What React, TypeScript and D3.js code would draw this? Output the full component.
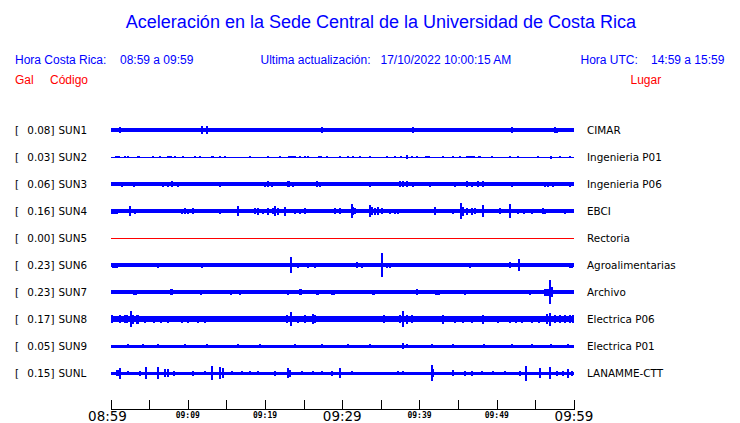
import React from "react";
import * as d3 from "d3";

// ---- data ----
const codes = ["SUN1", "SUN2", "SUN3", "SUN4", "SUN5", "SUN6", "SUN7", "SUN8", "SUN9", "SUNL"];
const places = ["CIMAR", "Ingenieria P01", "Ingenieria P06", "EBCI", "Rectoria", "Agroalimentarias", "Archivo", "Electrica P06", "Electrica P01", "LANAMME-CTT"];
const peakGal = [0.08, 0.03, 0.06, 0.16, 0.0, 0.23, 0.23, 0.17, 0.05, 0.15];
const baseGal = [0.033, 0.01, 0.035, 0.035, 0, 0.033, 0.035, 0.056, 0.03, 0.03];

// bursts: [minute after 08:59, half amplitude (Gal), optional duration (min)]
type Burst = [number, number, number?];
const sun1: Burst[] = [[1.23,0.057],[3.4,0.04],[5.98,0.04],[6.5,0.04],[9.2,0.04],[11.8,0.08],[12.45,0.08],[14.4,0.04],[17.41,0.047],[17.6,0.045],[20.4,0.04],[23.75,0.047],[25.5,0.04],[27.42,0.065],[29.8,0.04],[31.65,0.045],[35.1,0.045],[36.83,0.045],[39.2,0.065],[41.7,0.04],[45.46,0.04],[48.0,0.04],[50.85,0.045],[52.02,0.065],[55.0,0.04],[57.54,0.065],[57.76,0.05]];
const sun2: Burst[] = [[0.9,0.02,0.6],[1.88,0.02],[2.31,0.02],[3.6,0.025,0.45],[5.55,0.02],[6.41,0.015],[7.6,0.025,0.65],[8.35,0.02],[9.43,0.015],[10.94,0.015],[11.59,0.015],[13.2,0.025,0.35],[14.17,0.02],[14.82,0.015],[18.06,0.02],[20.35,0.025],[21.94,0.02],[23.5,0.025,1.1],[24.53,0.02],[25.18,0.015],[25.61,0.02],[27.1,0.025,0.45],[27.98,0.02],[29.71,0.015],[30.79,0.015],[31.43,0.015],[32.3,0.025],[33.59,0.02],[35.75,0.015],[36.83,0.015],[37.6,0.025,0.3],[38.34,0.035],[38.99,0.02],[39.63,0.02],[41.0,0.025,0.65],[43.09,0.015],[44.38,0.02],[45.24,0.02],[46.6,0.025,1.1],[47.8,0.025,0.45],[49.34,0.02],[51.72,0.02],[52.79,0.02],[55.38,0.02],[57.0,0.03,0.3],[58.19,0.015],[59.48,0.02]];
const sun3: Burst[] = [[0.15,0.045],[1.45,0.05],[2.52,0.045],[3.0,0.05],[3.6,0.045],[5.33,0.04],[6.19,0.045],[6.84,0.05],[7.49,0.05],[7.92,0.06],[8.78,0.05],[11.37,0.04],[12.88,0.045],[14.17,0.05],[18.06,0.045],[19.14,0.045],[20.0,0.05],[20.43,0.055],[20.86,0.05],[23.02,0.055,0.4],[23.67,0.05],[24.75,0.045],[26.69,0.055],[27.12,0.05],[29.49,0.045],[32.73,0.045],[33.59,0.05],[37.48,0.055],[37.91,0.06],[38.34,0.055],[39.2,0.05],[39.85,0.045],[41.36,0.05],[42.44,0.045],[43.52,0.045],[44.6,0.05],[45.24,0.045],[46.11,0.055],[46.75,0.05],[47.62,0.055],[48.26,0.06],[49.56,0.045],[50.64,0.045],[51.93,0.05],[54.3,0.045],[55.38,0.045],[56.25,0.05],[56.68,0.05],[57.32,0.05],[58.83,0.045],[59.48,0.05]];
const sun4: Burst[] = [[0.5,0.05,0.9],[2.52,0.093],[3.17,0.05],[4.25,0.045],[4.47,0.045],[5.55,0.04],[8.13,0.045],[9.21,0.05],[9.64,0.055],[10.07,0.05],[10.72,0.06],[14.17,0.05],[14.61,0.045],[16.46,0.107],[18.71,0.06],[19.14,0.07],[19.78,0.05],[20.43,0.07],[21.08,0.06],[21.3,0.1],[21.73,0.07],[22.59,0.09],[23.88,0.05],[24.53,0.05],[25.18,0.055],[26.69,0.04],[29.06,0.06],[29.71,0.06],[31.22,0.133],[31.43,0.08],[31.65,0.06],[33.59,0.127],[33.81,0.08],[34.24,0.07],[34.67,0.08],[35.1,0.06],[36.18,0.05],[36.83,0.05],[37.26,0.05],[39.0,0.04],[42.01,0.08],[44.38,0.05],[45.37,0.16],[45.67,0.09],[46.11,0.07],[46.75,0.07],[47.18,0.06],[48.26,0.127],[50.42,0.06],[51.72,0.147],[52.8,0.05],[53.5,0.05],[54.52,0.05],[56.03,0.06],[56.25,0.05],[57.32,0.045],[58.4,0.045],[58.83,0.05]];
const sun5: Burst[] = [];
const sun6: Burst[] = [[0.6,0.05,0.8],[2.09,0.045],[3.6,0.04],[6.19,0.05],[8.35,0.035],[9.21,0.04],[10.29,0.04],[11.8,0.05],[12.88,0.04],[14.17,0.035],[16.55,0.035],[20.22,0.035],[21.08,0.045],[21.51,0.045],[23.37,0.167],[24.32,0.05],[25.18,0.045],[25.61,0.05],[26.47,0.05],[28.63,0.04],[31.87,0.055],[32.51,0.05],[35.1,0.233],[35.75,0.05],[36.18,0.05],[38.99,0.04],[40.07,0.04],[42.01,0.045],[42.87,0.045],[43.52,0.045],[44.6,0.04],[45.89,0.04],[46.54,0.05],[47.62,0.045],[49.13,0.04],[50.42,0.04],[51.72,0.055],[52.88,0.117],[53.87,0.045],[55.38,0.045],[56.68,0.045],[57.76,0.04],[59.48,0.05],[59.8,0.05]];
const sun7: Burst[] = [[0.8,0.035],[2.09,0.035],[3.2,0.05,0.5],[4.68,0.045],[5.33,0.045],[5.98,0.045],[6.41,0.045],[7.9,0.055,0.5],[9.64,0.045],[10.72,0.045],[11.7,0.05,0.3],[13.74,0.045],[15.6,0.05,0.3],[16.76,0.05],[18.06,0.045],[19.35,0.045],[20.43,0.045],[21.3,0.045],[22.93,0.05],[24.6,0.055,0.5],[26.8,0.05,0.3],[28.85,0.05,0.5],[31.0,0.045],[34.0,0.05,0.4],[35.53,0.045],[36.83,0.045],[38.12,0.045],[39.63,0.055],[42.3,0.05,0.6],[44.16,0.045],[45.89,0.05],[47.6,0.045,0.4],[49.8,0.045,0.4],[51.29,0.045],[52.9,0.045,0.4],[54.3,0.05],[56.46,0.07,0.6],[56.89,0.233],[57.11,0.1],[58.62,0.045],[59.91,0.045]];
const sun8: Burst[] = [[0.15,0.08],[1.23,0.08],[1.88,0.08],[2.09,0.08],[2.65,0.157],[2.96,0.09],[3.39,0.09],[3.6,0.09],[4.47,0.07],[5.6,0.07],[6.5,0.07],[7.49,0.07],[8.4,0.065],[9.21,0.07],[10.07,0.07],[10.72,0.065],[11.37,0.07],[11.8,0.065],[12.23,0.07],[13.1,0.065],[13.96,0.065],[15.25,0.065],[16.1,0.065],[16.98,0.065],[18.0,0.065],[18.92,0.065],[19.78,0.06],[20.43,0.065],[21.08,0.065],[21.73,0.065],[22.8,0.08],[23.32,0.14],[24.3,0.07],[25.18,0.08],[26.17,0.1],[26.47,0.08],[27.77,0.065],[29.49,0.06],[31.65,0.055],[33.81,0.06],[35.45,0.08],[36.83,0.065],[37.48,0.08],[37.91,0.16],[38.34,0.09],[38.99,0.08],[40.2,0.065],[41.5,0.065],[43.09,0.09],[44.6,0.07],[45.67,0.07],[46.75,0.07],[48.26,0.09],[49.2,0.065],[50.2,0.07],[51.72,0.07],[52.5,0.07],[53.23,0.07],[54.6,0.07],[55.5,0.07],[56.46,0.1],[56.89,0.13],[57.54,0.08],[58.19,0.075],[58.83,0.075],[59.48,0.08],[59.91,0.075]];
const sun9: Burst[] = [[2.31,0.035],[4.25,0.035],[6.19,0.035],[9.64,0.035],[12.45,0.035],[16.55,0.035],[19.35,0.035],[23.88,0.035],[27.34,0.035],[30.79,0.035],[33.59,0.035],[37.91,0.053],[38.34,0.045],[41.58,0.035],[44.38,0.035],[48.39,0.04],[51.93,0.035],[54.52,0.035],[57.02,0.04],[59.27,0.035]];
const sunl: Burst[] = [[1.01,0.06,0.6],[1.23,0.11],[2.31,0.04],[3.82,0.05],[4.55,0.117],[6.19,0.117],[7.05,0.08],[7.49,0.08],[8.2,0.05],[10.72,0.05],[12.23,0.04],[13.1,0.133],[14.17,0.12],[14.61,0.1],[15.69,0.04],[16.98,0.04],[18.06,0.04],[19.14,0.04],[21.3,0.05],[23.02,0.1],[23.24,0.07],[24.75,0.045],[26.26,0.045],[27.34,0.045],[28.63,0.05],[29.71,0.1],[31.22,0.04],[37.26,0.045],[37.9,0.045],[41.58,0.157],[41.79,0.08],[44.38,0.06],[45.89,0.05],[46.75,0.05],[48.05,0.045],[49.56,0.045],[51.07,0.045],[53.01,0.05],[53.79,0.15],[55.6,0.1],[56.89,0.127],[57.76,0.05],[58.62,0.05],[59.27,0.09],[59.7,0.05]];
const bursts: Burst[][] = [sun1, sun2, sun3, sun4, sun5, sun6, sun7, sun8, sun9, sunl];

const tickMinutes = [0, 5, 10, 15, 20, 25, 30, 35, 40, 45, 50, 55, 60];
const bigLabels: [number, string][] = [[0, "08:59"], [30, "09:29"], [60, "09:59"]];
const smallLabels: [number, string][] = [[10, "09:09"], [20, "09:19"], [40, "09:39"], [50, "09:49"]];

const title = "Aceleración en la Sede Central de la Universidad de Costa Rica";

export default function App() {
  const W = 740, H = 423;
  const x = d3.scaleLinear().domain([0, 60]).range([110.5, 574]);
  const yc = d3.scalePoint<string>().domain(codes).range([130, 373]);
  const amp = d3.scaleLinear().domain([-0.27, 0.27]).range([13.5, -13.5]);
  const blue = "#0000ff";
  const red = "#ff0000";
  const sans = "'Liberation Sans', Arial, sans-serif";
  const dv = "'DejaVu Sans', sans-serif";
  const axisY = 409.5;

  return (
    <svg width={W} height={H} style={{ position: "absolute", left: 0, top: 0, background: "#fff" }}>
      <rect x={0} y={0} width={W} height={H} fill="#fff" />
      <text x={381} y={28} textAnchor="middle" fontFamily={sans} fontSize={18} fill={blue}>{title}</text>

      <g fontFamily={sans} fontSize={12} fill={blue}>
        <text x={15} y={64}>Hora Costa Rica:</text>
        <text x={120} y={64}>08:59 a 09:59</text>
        <text x={260.5} y={64}>Ultima actualización:</text>
        <text x={380.5} y={64}>17/10/2022 10:00:15 AM</text>
        <text x={580.5} y={64}>Hora UTC:</text>
        <text x={651} y={64}>14:59 a 15:59</text>
      </g>
      <g fontFamily={sans} fontSize={12} fill={red}>
        <text x={15} y={84}>Gal</text>
        <text x={50} y={84}>Código</text>
        <text x={630.5} y={84}>Lugar</text>
      </g>

      {codes.map((c, i) => {
        const cy = yc(c)!;
        const base = baseGal[i];
        const col = i === 4 ? red : blue;
        return (
          <g key={c}>
            <g fontFamily={dv} fontSize={10.4} fill="#000">
              <text x={15} y={cy + 4}>[</text>
              <text x={54.5} y={cy + 4} textAnchor="end">{peakGal[i].toFixed(2)}]</text>
              <text x={58.5} y={cy + 4}>{c}</text>
              <text x={587} y={cy + 4}>{places[i]}</text>
            </g>
            {base === 0 ? (
              <line x1={x(0)} x2={x(60)} y1={cy + 0.5} y2={cy + 0.5} stroke={col} strokeWidth={1} shapeRendering="crispEdges" />
            ) : (
              <rect x={x(0)} width={x(60) - x(0)} y={cy + amp(base)} height={amp(-base) - amp(base)} fill={col} shapeRendering="crispEdges" />
            )}
            {bursts[i].map((b, j) => {
              const w = b[2] ?? 0.25;
              const x0 = Math.max(x(0), x(b[0] - w / 2));
              const x1 = Math.min(x(60), x(b[0] + w / 2));
              return (
                <rect key={j} x={x0} width={Math.max(1, x1 - x0)} y={cy + amp(b[1])} height={amp(-b[1]) - amp(b[1])} fill={col} shapeRendering="crispEdges" />
              );
            })}
          </g>
        );
      })}

      <line x1={x(0)} x2={x(60)} y1={axisY} y2={axisY} stroke="#000" strokeWidth={1} shapeRendering="crispEdges" />
      {tickMinutes.map((m) => (
        <line key={m} x1={Math.round(x(m)) + 0.5} x2={Math.round(x(m)) + 0.5} y1={400} y2={axisY} stroke="#000" strokeWidth={1} shapeRendering="crispEdges" />
      ))}
      <g fontFamily={dv} fontSize={13.5} fill="#000" textAnchor="middle">
        {bigLabels.map(([m, s]) => (
          <text key={s} x={m === 0 ? x(m) - 3 : x(m)} y={421}>{s}</text>
        ))}
      </g>
      <g fontFamily="'DejaVu Sans Mono', monospace" fontSize={8} fontWeight="bold" fill="#000" textAnchor="middle">
        {smallLabels.map(([m, s]) => (
          <text key={s} x={x(m)} y={418}>{s}</text>
        ))}
      </g>
    </svg>
  );
}
